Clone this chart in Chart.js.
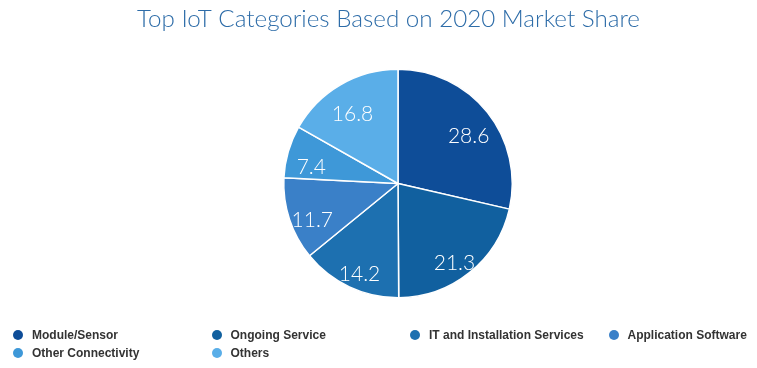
<!DOCTYPE html>
<html>
<head>
<meta charset="utf-8">
<script src="https://cdn.jsdelivr.net/npm/chart.js@4/dist/chart.umd.min.js"></script>
<style>
  html, body { margin: 0; padding: 0; background: #fff; }
  #wrap { position: relative; width: 757px; height: 368px; }
  #c { position: absolute; left: 0; top: 0; }
  #legend { position: absolute; left: 0; top: 0; width: 757px; height: 368px; pointer-events: none; }
  .li { position: absolute; height: 18px; font: bold 12px "Liberation Sans", Arial, sans-serif; color: #333; line-height: 18px; white-space: nowrap; }
  .dot { position: absolute; left: 0; top: 4px; width: 10px; height: 10px; border-radius: 50%; }
  .lt { position: absolute; left: 19px; top: 0; }
</style>
</head>
<body>
<div id="wrap">
  <canvas id="c" width="757" height="368"></canvas>
  <div id="legend"></div>
</div>
<script>
const titleText = "Top IoT Categories Based on 2020 Market Share";
const categories = ["Module/Sensor", "Ongoing Service", "IT and Installation Services", "Application Software", "Other Connectivity", "Others"];
const shares = [28.6, 21.3, 14.2, 11.7, 7.4, 16.8];
const colors = ["#0e4d98", "#11609f", "#1d70b0", "#3a80c8", "#3e98d8", "#5aaee8"];

const labelPlugin = {
  id: 'sliceLabels',
  afterDatasetsDraw(chart) {
    const ctx = chart.ctx;
    const meta = chart.getDatasetMeta(0);
    ctx.save();
    ctx.font = '300 21px Lato';
    ctx.fillStyle = '#ffffff';
    ctx.textAlign = 'center';
    ctx.textBaseline = 'middle';
    meta.data.forEach((arc, i) => {
      const p = arc.getProps(['x', 'y', 'startAngle', 'endAngle', 'outerRadius'], true);
      const mid = (p.startAngle + p.endAngle) / 2;
      const r = p.outerRadius * 0.79;
      ctx.fillText(shares[i].toFixed(1), p.x + Math.cos(mid) * r, p.y + Math.sin(mid) * r + 9);
    });
    ctx.restore();
  }
};

const titlePlugin = {
  id: 'topTitle',
  afterDraw(chart) {
    const ctx = chart.ctx;
    ctx.save();
    ctx.font = '300 24.2px Lato';
    ctx.fillStyle = '#2d6ca8';
    ctx.textAlign = 'center';
    ctx.textBaseline = 'alphabetic';
    ctx.fillText(titleText, 388.5, 27);
    ctx.restore();
  }
};

new Chart(document.getElementById('c'), {
  type: 'pie',
  data: {
    labels: categories,
    datasets: [{
      data: shares,
      backgroundColor: colors,
      borderColor: '#ffffff',
      borderWidth: 1.5
    }]
  },
  options: {
    responsive: false,
    animation: false,
    layout: { padding: { left: 39, right: 0, top: 68.5, bottom: 69.5 } },
    plugins: {
      legend: { display: false },
      tooltip: { enabled: false },
      title: { display: false }
    }
  },
  plugins: [labelPlugin, titlePlugin]
});

const legend = document.getElementById('legend');
categories.forEach((name, i) => {
  const col = i % 4, row = Math.floor(i / 4);
  const el = document.createElement('div');
  el.className = 'li';
  el.style.left = (13 + col * 198.5) + 'px';
  el.style.top = (326 + row * 18) + 'px';
  el.innerHTML = '<span class="dot" style="background:' + colors[i] + '"></span><span class="lt"></span>';
  el.querySelector('.lt').textContent = name;
  legend.appendChild(el);
});
</script>
</body>
</html>
